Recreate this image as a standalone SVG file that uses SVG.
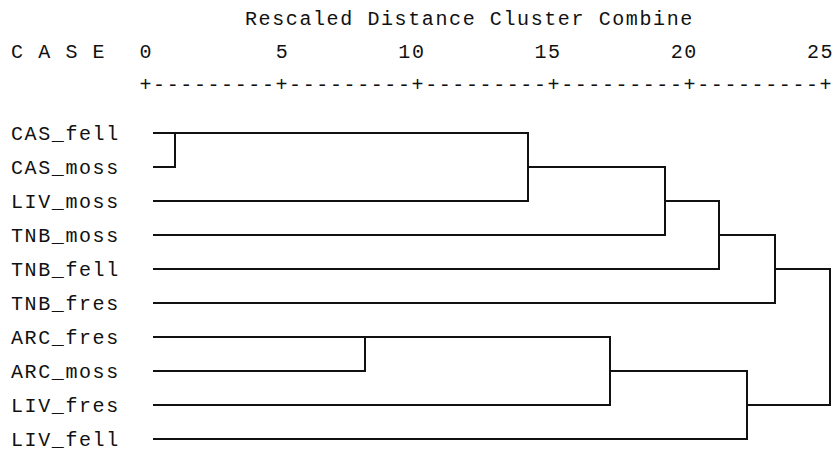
<svg xmlns="http://www.w3.org/2000/svg" width="837" height="453" viewBox="0 0 837 453">
<style>
text{font-family:"Liberation Mono","DejaVu Sans Mono",monospace;font-size:20px;letter-spacing:1.6px;fill:#111}
.c{fill:none;stroke:#111;stroke-width:2;stroke-linejoin:miter;stroke-linecap:square}
</style>
<rect width="837" height="453" fill="#fff"/>
<g id="header">
<text x="245" y="25">Rescaled Distance Cluster Combine</text>
<text x="11" y="58">C A S E</text>
<text x="139.5" y="58">0</text>
<text x="275.7" y="58">5</text>
<text x="398.3" y="58">10</text>
<text x="534.5" y="58">15</text>
<text x="670.7" y="58">20</text>
<text x="806.9" y="58">25</text>
<text x="139.5" y="91">+---------+---------+---------+---------+---------+</text>
</g>
<g id="CAS_fell"><text x="11" y="139.5">CAS_fell</text></g>
<g id="CAS_moss"><text x="11" y="173.5">CAS_moss</text></g>
<g id="LIV_moss"><text x="11" y="207.5">LIV_moss</text></g>
<g id="TNB_moss"><text x="11" y="241.5">TNB_moss</text></g>
<g id="TNB_fell"><text x="11" y="275.5">TNB_fell</text></g>
<g id="TNB_fres"><text x="11" y="309.5">TNB_fres</text></g>
<g id="ARC_fres"><text x="11" y="343.5">ARC_fres</text></g>
<g id="ARC_moss"><text x="11" y="377.5">ARC_moss</text></g>
<g id="LIV_fres"><text x="11" y="411.5">LIV_fres</text></g>
<g id="LIV_fell"><text x="11" y="445.5">LIV_fell</text></g>
<g id="connectors">
<path class="c" d="M154 133H528M154 167H175V133"/>
<path class="c" d="M154 201H528V133M528 167H665"/>
<path class="c" d="M154 235H665V167M665 201H719"/>
<path class="c" d="M154 269H719V201M719 235H775"/>
<path class="c" d="M154 303H775V235M775 269H830"/>
<path class="c" d="M154 337H610M154 371H365V337"/>
<path class="c" d="M154 405H610V337M610 371H747"/>
<path class="c" d="M154 439H747V371M747 405H830V269"/>
</g>
</svg>
